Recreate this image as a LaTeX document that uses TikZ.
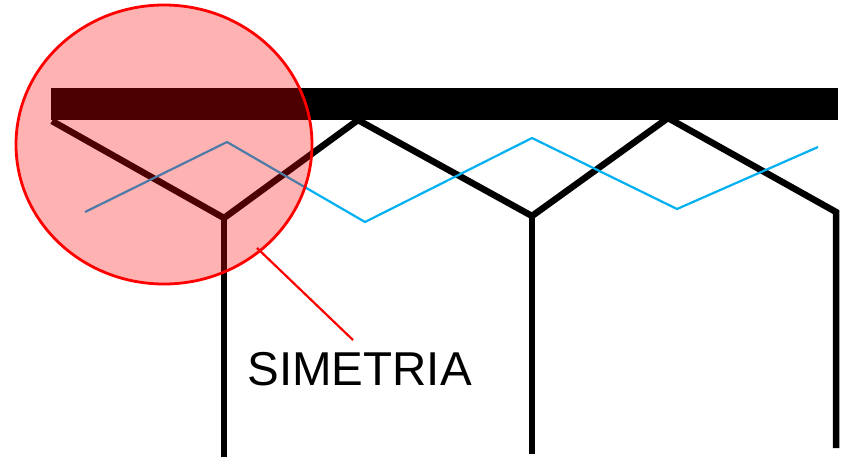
\documentclass[tikz,border=0pt]{standalone}
\usepackage{fontspec}
\setmainfont{Liberation Sans}
\usetikzlibrary{shapes.geometric}
\definecolor{sky}{RGB}{0,176,240}
\tikzset{
  beam/.style={line width=6.5pt, black, line join=miter},
  wave/.style={line width=2.2pt, sky, line join=miter},
  ring/.style={ellipse, draw=red, line width=2.8pt, fill=red, fill opacity=0.3, draw opacity=1, minimum width=296pt, minimum height=279pt, inner sep=0},
  pointer/.style={line width=2.2pt, red},
  label/.style={font=\fontsize{47.5}{50}\selectfont, inner sep=0, anchor=base}
}
\begin{document}
\begin{tikzpicture}[x=1pt,y=-1pt]
\useasboundingbox (0,0) rectangle (850,459);
% bar
\fill[black] (51,88) rectangle (838,119.5);
% black truss points
\coordinate (p0) at (52,121);
\coordinate (v1) at (224,218);
\coordinate (t1) at (358,120);
\coordinate (v2) at (532,216);
\coordinate (t2) at (668,118);
\coordinate (v3) at (836,212);
\coordinate (b1) at (224,457);
\coordinate (b2) at (532,454);
\coordinate (b3) at (836,448);
\draw[beam] (p0) -- (v1) -- (t1) -- (v2) -- (t2) -- (v3) -- (b3);
\draw[beam] (v1) -- (b1);
\draw[beam] (v2) -- (b2);
% blue wave
\coordinate (w0) at (85,212);
\coordinate (w1) at (227,142);
\coordinate (w2) at (365,222);
\coordinate (w3) at (532,138);
\coordinate (w4) at (677,209);
\coordinate (w5) at (818,147);
\draw[wave] (w0) -- (w1) -- (w2) -- (w3) -- (w4) -- (w5);
% circle
\node[ring] (circ) at (164,144.5) {};
% pointer and label
\coordinate (ps) at (257,248);
\node[label] (txt) at (359.5,385) {SIMETRIA};
\coordinate (pe) at (353,340);
\draw[pointer] (ps) -- (pe);
\end{tikzpicture}
\end{document}
